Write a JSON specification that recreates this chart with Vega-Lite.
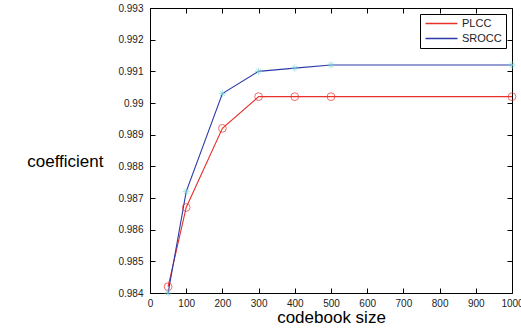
{
  "$schema": "https://vega.github.io/schema/vega-lite/v6.json",
  "width": 362,
  "height": 285,
  "autosize": {"type": "none"},
  "padding": {"left": 150, "top": 8, "right": 9, "bottom": 42},
  "background": "white",
  "config": {
    "font": "Liberation Sans",
    "view": {"stroke": "black", "strokeWidth": 1},
    "axis": {
      "grid": false,
      "zindex": 1,
      "tickOpacity": 1,
      "labelColor": "#222",
      "labelFont": "Liberation Sans",
      "labelFontSize": 10,
      "titleFont": "Liberation Sans",
      "titleFontWeight": "normal",
      "titleFontSize": 17,
      "titleColor": "black"
    }
  },
  "data": {
    "values": [
      {"size": 50, "series": "PLCC", "value": 0.9842},
      {"size": 100, "series": "PLCC", "value": 0.9867},
      {"size": 200, "series": "PLCC", "value": 0.9892},
      {"size": 300, "series": "PLCC", "value": 0.9902},
      {"size": 400, "series": "PLCC", "value": 0.9902},
      {"size": 500, "series": "PLCC", "value": 0.9902},
      {"size": 1000, "series": "PLCC", "value": 0.9902},
      {"size": 50, "series": "SROCC", "value": 0.984},
      {"size": 100, "series": "SROCC", "value": 0.9872},
      {"size": 200, "series": "SROCC", "value": 0.9903},
      {"size": 300, "series": "SROCC", "value": 0.991},
      {"size": 400, "series": "SROCC", "value": 0.9911},
      {"size": 500, "series": "SROCC", "value": 0.9912},
      {"size": 1000, "series": "SROCC", "value": 0.9912}
    ]
  },
  "layer": [
    {
      "mark": {"type": "line", "strokeWidth": 1.1, "clip": false},
      "encoding": {
        "x": {
          "field": "size", "type": "quantitative",
          "scale": {"domain": [0, 1000], "nice": false},
          "axis": {"values": [0,100,200,300,400,500,600,700,800,900,1000], "format": "d", "title": "codebook size", "ticks": true, "tickSize": 5, "tickColor": "black", "tickWidth": 1, "offset": -5, "domain": false, "labelPadding": 5, "titlePadding": 1, "labelFlush": false, "labelOverlap": false}
        },
        "y": {
          "field": "value", "type": "quantitative",
          "scale": {"domain": [0.984, 0.993], "nice": false, "zero": false},
          "axis": {"values": [0.984,0.985,0.986,0.987,0.988,0.989,0.99,0.991,0.992,0.993], "format": "~g", "title": "coefficient", "ticks": true, "tickSize": 5, "tickColor": "black", "tickWidth": 1, "offset": -5, "domain": false, "titleAngle": 0, "titleAlign": "right", "titleBaseline": "middle", "titleX": -52, "titleY": 153, "labelPadding": 7, "labelFlush": false, "labelOverlap": false}
        },
        "color": {
          "field": "series", "type": "nominal",
          "scale": {"domain": ["PLCC", "SROCC"], "range": ["#e8302a", "#2a3aa8"]},
          "legend": {
            "title": null,
            "orient": "none",
            "legendX": 270,
            "legendY": 6,
            "symbolType": "M-1,0L7,0",
            "symbolSize": 64,
            "symbolStrokeWidth": 1.3,
            "labelFontSize": 11,
            "labelColor": "#222",
            "strokeColor": "black",
            "fillColor": "white",
            "padding": 4,
            "rowPadding": 3,
            "labelOffset": 27
          }
        }
      }
    },
    {
      "transform": [{"filter": "datum.series === 'PLCC'"}],
      "mark": {"type": "point", "filled": false, "strokeWidth": 1, "clip": false, "color": "#e8302a", "shape": "circle", "size": 60},
      "encoding": {
        "x": {"field": "size", "type": "quantitative", "axis": null},
        "y": {"field": "value", "type": "quantitative", "axis": null}
      }
    },
    {
      "transform": [{"filter": "datum.series === 'SROCC'"}],
      "mark": {"type": "point", "filled": false, "strokeWidth": 1, "clip": false, "color": "#7fd6d8", "shape": "M0,-1L0,1M-1,0L1,0M-0.7,-0.7L0.7,0.7M-0.7,0.7L0.7,-0.7", "size": 50},
      "encoding": {
        "x": {"field": "size", "type": "quantitative", "axis": null},
        "y": {"field": "value", "type": "quantitative", "axis": null}
      }
    },
    {
      "mark": {"type": "point", "opacity": 0},
      "encoding": {
        "x": {"field": "size", "type": "quantitative", "axis": {"orient": "top", "labels": false, "title": null, "ticks": true, "tickSize": 5, "tickColor": "black", "tickWidth": 1, "offset": -5, "domain": false, "values": [0,100,200,300,400,500,600,700,800,900,1000]}},
        "y": {"field": "value", "type": "quantitative", "axis": {"orient": "right", "labels": false, "title": null, "ticks": true, "tickSize": 5, "tickColor": "black", "tickWidth": 1, "offset": -5, "domain": false, "values": [0.984,0.985,0.986,0.987,0.988,0.989,0.99,0.991,0.992,0.993]}}
      }
    }
  ],
  "resolve": {"axis": {"x": "independent", "y": "independent"}}
}
